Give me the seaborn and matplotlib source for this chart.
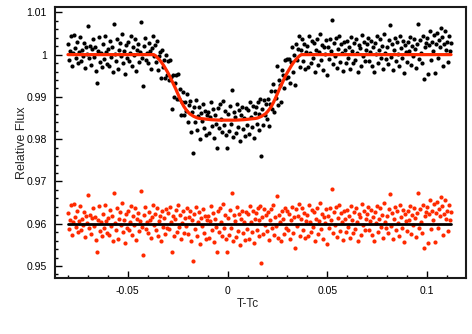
"""Transit light curve with model fit and residuals (seaborn)."""

import matplotlib

matplotlib.use("Agg")
import matplotlib.pyplot as plt
import numpy as np
import pandas as pd
import seaborn as sns
from matplotlib.ticker import FuncFormatter, MultipleLocator


# Time from mid-transit (T - Tc)
time = [
    -0.0800, -0.0795, -0.0790, -0.0785, -0.0780, -0.0775, -0.0770, -0.0765, -0.0760, -0.0755,
    -0.0750, -0.0745, -0.0740, -0.0735, -0.0730, -0.0725, -0.0720, -0.0715, -0.0710, -0.0705,
    -0.0700, -0.0695, -0.0690, -0.0685, -0.0680, -0.0675, -0.0670, -0.0665, -0.0660, -0.0655,
    -0.0650, -0.0645, -0.0640, -0.0635, -0.0630, -0.0625, -0.0620, -0.0615, -0.0610, -0.0605,
    -0.0600, -0.0595, -0.0590, -0.0585, -0.0580, -0.0575, -0.0570, -0.0565, -0.0560, -0.0555,
    -0.0550, -0.0545, -0.0540, -0.0535, -0.0530, -0.0525, -0.0520, -0.0515, -0.0510, -0.0505,
    -0.0500, -0.0495, -0.0490, -0.0485, -0.0480, -0.0475, -0.0470, -0.0465, -0.0460, -0.0455,
    -0.0450, -0.0445, -0.0440, -0.0435, -0.0430, -0.0425, -0.0420, -0.0415, -0.0410, -0.0405,
    -0.0400, -0.0395, -0.0390, -0.0385, -0.0380, -0.0375, -0.0370, -0.0365, -0.0360, -0.0355,
    -0.0350, -0.0345, -0.0340, -0.0335, -0.0330, -0.0325, -0.0320, -0.0315, -0.0310, -0.0305,
    -0.0300, -0.0295, -0.0290, -0.0285, -0.0280, -0.0275, -0.0270, -0.0265, -0.0260, -0.0255,
    -0.0250, -0.0245, -0.0240, -0.0235, -0.0230, -0.0225, -0.0220, -0.0215, -0.0210, -0.0205,
    -0.0200, -0.0195, -0.0190, -0.0185, -0.0180, -0.0175, -0.0170, -0.0165, -0.0160, -0.0155,
    -0.0150, -0.0145, -0.0140, -0.0135, -0.0130, -0.0125, -0.0120, -0.0115, -0.0110, -0.0105,
    -0.0100, -0.0095, -0.0090, -0.0085, -0.0080, -0.0075, -0.0070, -0.0065, -0.0060, -0.0055,
    -0.0050, -0.0045, -0.0040, -0.0035, -0.0030, -0.0025, -0.0020, -0.0015, -0.0010, -0.0005,
    0.0000, 0.0005, 0.0010, 0.0015, 0.0020, 0.0025, 0.0030, 0.0035, 0.0040, 0.0045,
    0.0050, 0.0055, 0.0060, 0.0065, 0.0070, 0.0075, 0.0080, 0.0085, 0.0090, 0.0095,
    0.0100, 0.0105, 0.0110, 0.0115, 0.0120, 0.0125, 0.0130, 0.0135, 0.0140, 0.0145,
    0.0150, 0.0155, 0.0160, 0.0165, 0.0170, 0.0175, 0.0180, 0.0185, 0.0190, 0.0195,
    0.0200, 0.0205, 0.0210, 0.0215, 0.0220, 0.0225, 0.0230, 0.0235, 0.0240, 0.0245,
    0.0250, 0.0255, 0.0260, 0.0265, 0.0270, 0.0275, 0.0280, 0.0285, 0.0290, 0.0295,
    0.0300, 0.0305, 0.0310, 0.0315, 0.0320, 0.0325, 0.0330, 0.0335, 0.0340, 0.0345,
    0.0350, 0.0355, 0.0360, 0.0365, 0.0370, 0.0375, 0.0380, 0.0385, 0.0390, 0.0395,
    0.0400, 0.0405, 0.0410, 0.0415, 0.0420, 0.0425, 0.0430, 0.0435, 0.0440, 0.0445,
    0.0450, 0.0455, 0.0460, 0.0465, 0.0470, 0.0475, 0.0480, 0.0485, 0.0490, 0.0495,
    0.0500, 0.0505, 0.0510, 0.0515, 0.0520, 0.0525, 0.0530, 0.0535, 0.0540, 0.0545,
    0.0550, 0.0555, 0.0560, 0.0565, 0.0570, 0.0575, 0.0580, 0.0585, 0.0590, 0.0595,
    0.0600, 0.0605, 0.0610, 0.0615, 0.0620, 0.0625, 0.0630, 0.0635, 0.0640, 0.0645,
    0.0650, 0.0655, 0.0660, 0.0665, 0.0670, 0.0675, 0.0680, 0.0685, 0.0690, 0.0695,
    0.0700, 0.0705, 0.0710, 0.0715, 0.0720, 0.0725, 0.0730, 0.0735, 0.0740, 0.0745,
    0.0750, 0.0755, 0.0760, 0.0765, 0.0770, 0.0775, 0.0780, 0.0785, 0.0790, 0.0795,
    0.0800, 0.0805, 0.0810, 0.0815, 0.0820, 0.0825, 0.0830, 0.0835, 0.0840, 0.0845,
    0.0850, 0.0855, 0.0860, 0.0865, 0.0870, 0.0875, 0.0880, 0.0885, 0.0890, 0.0895,
    0.0900, 0.0905, 0.0910, 0.0915, 0.0920, 0.0925, 0.0930, 0.0935, 0.0940, 0.0945,
    0.0950, 0.0955, 0.0960, 0.0965, 0.0970, 0.0975, 0.0980, 0.0985, 0.0990, 0.0995,
    0.1000, 0.1005, 0.1010, 0.1015, 0.1020, 0.1025, 0.1030, 0.1035, 0.1040, 0.1045,
    0.1050, 0.1055, 0.1060, 0.1065, 0.1070, 0.1075, 0.1080, 0.1085, 0.1090, 0.1095,
    0.1100, 0.1105, 0.1110, 0.1115, 0.1120,
]

# Observed relative flux (black points)
flux = [
    1.0025, 0.9988, 1.0008, 1.0044, 0.9973, 1.0003, 1.0046, 1.0015, 0.9992, 1.0030,
    0.9980, 1.0006, 1.0042, 0.9985, 1.0011, 0.9997, 1.0028, 0.9968, 1.0019, 1.0002,
    1.0067, 0.9991, 1.0021, 0.9976, 1.0013, 1.0036, 0.9995, 1.0017, 0.9962, 0.9933,
    1.0009, 1.0041, 0.9982, 1.0004, 0.9970, 1.0024, 0.9989, 1.0045, 1.0007, 0.9978,
    1.0014, 0.9973, 1.0033, 0.9994, 1.0019, 0.9959, 1.0072, 1.0002, 0.9984, 1.0038,
    0.9965, 1.0011, 1.0027, 0.9997, 1.0048, 0.9980, 1.0008, 0.9955, 1.0022, 0.9991,
    1.0031, 0.9986, 1.0005, 1.0043, 0.9974, 1.0018, 0.9998, 1.0036, 0.9961, 1.0012,
    1.0025, 0.9982, 1.0007, 1.0077, 0.9992, 0.9926, 1.0020, 1.0040, 0.9988, 1.0003,
    0.9979, 1.0028, 1.0009, 0.9967, 1.0016, 1.0044, 0.9996, 1.0022, 0.9982, 1.0032,
    0.9964, 0.9996, 1.0006, 0.9944, 1.0011, 0.9971, 0.9988, 0.9945, 1.0000, 0.9951,
    0.9984, 0.9941, 0.9988, 0.9948, 0.9872, 0.9952, 0.9899, 0.9934, 0.9952, 0.9895,
    0.9953, 0.9895, 0.9918, 0.9856, 0.9889, 0.9912, 0.9856, 0.9889, 0.9866, 0.9906,
    0.9841, 0.9880, 0.9891, 0.9818, 0.9865, 0.9767, 0.9876, 0.9841, 0.9892, 0.9821,
    0.9855, 0.9877, 0.9801, 0.9862, 0.9843, 0.9883, 0.9827, 0.9867, 0.9810, 0.9856,
    0.9865, 0.9814, 0.9852, 0.9888, 0.9831, 0.9871, 0.9802, 0.9857, 0.9837, 0.9778,
    0.9874, 0.9826, 0.9882, 0.9848, 0.9817, 0.9891, 0.9834, 0.9866, 0.9809, 0.9778,
    0.9859, 0.9819, 0.9878, 0.9836, 0.9917, 0.9805, 0.9865, 0.9852, 0.9814, 0.9884,
    0.9829, 0.9870, 0.9796, 0.9856, 0.9877, 0.9824, 0.9850, 0.9808, 0.9873, 0.9833,
    0.9869, 0.9812, 0.9888, 0.9853, 0.9828, 0.9878, 0.9803, 0.9861, 0.9875, 0.9836,
    0.9887, 0.9822, 0.9860, 0.9896, 0.9760, 0.9872, 0.9833, 0.9893, 0.9857, 0.9883,
    0.9847, 0.9895, 0.9832, 0.9884, 0.9913, 0.9872, 0.9931, 0.9865, 0.9913, 0.9897,
    0.9974, 0.9881, 0.9940, 0.9927, 0.9887, 0.9963, 0.9951, 0.9920, 0.9987, 0.9945,
    0.9989, 0.9946, 0.9990, 0.9933, 0.9982, 1.0018, 0.9959, 0.9999, 0.9929, 1.0024,
    0.9987, 1.0014, 1.0043, 0.9971, 1.0011, 1.0037, 0.9986, 1.0026, 0.9967, 1.0007,
    1.0021, 0.9970, 1.0045, 1.0004, 0.9981, 1.0033, 0.9992, 1.0027, 0.9959, 1.0012,
    1.0038, 0.9976, 1.0006, 1.0049, 0.9987, 1.0023, 0.9964, 1.0017, 1.0001, 1.0035,
    0.9951, 1.0018, 0.9990, 1.0036, 1.0009, 1.0083, 0.9978, 1.0028, 0.9997, 1.0040,
    0.9969, 1.0014, 1.0044, 0.9983, 1.0025, 1.0005, 0.9962, 1.0030, 1.0011, 0.9980,
    1.0032, 0.9993, 1.0019, 0.9967, 1.0042, 1.0008, 0.9979, 1.0027, 0.9988, 1.0037,
    1.0003, 0.9958, 1.0022, 1.0015, 0.9974, 1.0046, 0.9996, 1.0029, 0.9984, 1.0010,
    1.0024, 1.0039, 0.9985, 1.0006, 1.0033, 0.9973, 1.0017, 0.9959, 1.0028, 1.0001,
    1.0043, 0.9981, 1.0012, 1.0036, 0.9992, 1.0021, 0.9966, 1.0048, 1.0004, 0.9989,
    1.0018, 0.9977, 1.0035, 1.0070, 0.9994, 1.0026, 0.9963, 1.0011, 1.0040, 0.9986,
    1.0029, 1.0002, 0.9972, 1.0044, 1.0016, 0.9991, 1.0033, 0.9956, 1.0022, 1.0007,
    0.9983, 1.0030, 1.0009, 1.0041, 0.9975, 1.0020, 0.9996, 1.0037, 1.0013, 0.9968,
    1.0026, 1.0072, 0.9989, 1.0034, 1.0005, 0.9979, 1.0045, 0.9942, 1.0018, 1.0028,
    1.0039, 0.9954, 1.0022, 1.0055, 0.9987, 1.0031, 1.0008, 1.0047, 0.9956, 1.0026,
    1.0051, 0.9991, 1.0035, 1.0018, 1.0063, 1.0041, 0.9973, 1.0024, 1.0056, 1.0012,
    1.0030, 0.9982, 1.0044, 1.0009, 1.0027,
]

# Residuals (data - model), offset to 0.96 (red points)
resid = [
    0.9625, 0.9588, 0.9608, 0.9644, 0.9573, 0.9603, 0.9646, 0.9615, 0.9592, 0.9630,
    0.9580, 0.9606, 0.9642, 0.9585, 0.9611, 0.9597, 0.9628, 0.9568, 0.9619, 0.9602,
    0.9667, 0.9591, 0.9621, 0.9576, 0.9613, 0.9636, 0.9595, 0.9617, 0.9562, 0.9533,
    0.9609, 0.9641, 0.9582, 0.9604, 0.9570, 0.9624, 0.9589, 0.9645, 0.9607, 0.9578,
    0.9614, 0.9573, 0.9633, 0.9594, 0.9619, 0.9559, 0.9672, 0.9602, 0.9584, 0.9638,
    0.9565, 0.9611, 0.9627, 0.9597, 0.9648, 0.9580, 0.9608, 0.9555, 0.9622, 0.9591,
    0.9631, 0.9586, 0.9605, 0.9643, 0.9574, 0.9618, 0.9598, 0.9636, 0.9561, 0.9612,
    0.9625, 0.9582, 0.9607, 0.9677, 0.9592, 0.9526, 0.9620, 0.9640, 0.9588, 0.9603,
    0.9579, 0.9628, 0.9609, 0.9567, 0.9616, 0.9644, 0.9596, 0.9623, 0.9585, 0.9637,
    0.9572, 0.9606, 0.9619, 0.9560, 0.9630, 0.9593, 0.9614, 0.9575, 0.9634, 0.9589,
    0.9626, 0.9587, 0.9639, 0.9604, 0.9533, 0.9618, 0.9570, 0.9610, 0.9633, 0.9581,
    0.9645, 0.9592, 0.9621, 0.9564, 0.9602, 0.9629, 0.9578, 0.9614, 0.9595, 0.9638,
    0.9576, 0.9617, 0.9631, 0.9559, 0.9608, 0.9511, 0.9622, 0.9588, 0.9640, 0.9570,
    0.9605, 0.9627, 0.9552, 0.9613, 0.9594, 0.9635, 0.9579, 0.9619, 0.9563, 0.9609,
    0.9618, 0.9567, 0.9606, 0.9642, 0.9585, 0.9625, 0.9556, 0.9611, 0.9592, 0.9533,
    0.9629, 0.9581, 0.9637, 0.9603, 0.9572, 0.9646, 0.9589, 0.9621, 0.9564, 0.9533,
    0.9614, 0.9574, 0.9633, 0.9591, 0.9672, 0.9560, 0.9620, 0.9607, 0.9569, 0.9639,
    0.9583, 0.9624, 0.9550, 0.9610, 0.9631, 0.9578, 0.9604, 0.9562, 0.9627, 0.9587,
    0.9622, 0.9565, 0.9641, 0.9605, 0.9580, 0.9630, 0.9554, 0.9612, 0.9626, 0.9586,
    0.9637, 0.9571, 0.9608, 0.9643, 0.9506, 0.9616, 0.9576, 0.9634, 0.9597, 0.9620,
    0.9582, 0.9627, 0.9561, 0.9609, 0.9635, 0.9589, 0.9644, 0.9573, 0.9616, 0.9594,
    0.9666, 0.9567, 0.9621, 0.9603, 0.9558, 0.9629, 0.9612, 0.9576, 0.9638, 0.9591,
    0.9631, 0.9584, 0.9624, 0.9563, 0.9608, 0.9640, 0.9578, 0.9615, 0.9542, 0.9634,
    0.9595, 0.9619, 0.9646, 0.9572, 0.9611, 0.9637, 0.9586, 0.9626, 0.9567, 0.9607,
    0.9621, 0.9570, 0.9645, 0.9604, 0.9581, 0.9633, 0.9592, 0.9627, 0.9559, 0.9612,
    0.9638, 0.9576, 0.9606, 0.9649, 0.9587, 0.9623, 0.9564, 0.9617, 0.9601, 0.9635,
    0.9551, 0.9618, 0.9590, 0.9636, 0.9609, 0.9683, 0.9578, 0.9628, 0.9597, 0.9640,
    0.9569, 0.9614, 0.9644, 0.9583, 0.9625, 0.9605, 0.9562, 0.9630, 0.9611, 0.9580,
    0.9632, 0.9593, 0.9619, 0.9567, 0.9642, 0.9608, 0.9579, 0.9627, 0.9588, 0.9637,
    0.9603, 0.9558, 0.9622, 0.9615, 0.9574, 0.9646, 0.9596, 0.9629, 0.9584, 0.9610,
    0.9624, 0.9639, 0.9585, 0.9606, 0.9633, 0.9573, 0.9617, 0.9559, 0.9628, 0.9601,
    0.9643, 0.9581, 0.9612, 0.9636, 0.9592, 0.9621, 0.9566, 0.9648, 0.9604, 0.9589,
    0.9618, 0.9577, 0.9635, 0.9670, 0.9594, 0.9626, 0.9563, 0.9611, 0.9640, 0.9586,
    0.9629, 0.9602, 0.9572, 0.9644, 0.9616, 0.9591, 0.9633, 0.9556, 0.9622, 0.9607,
    0.9583, 0.9630, 0.9609, 0.9641, 0.9575, 0.9620, 0.9596, 0.9637, 0.9613, 0.9568,
    0.9626, 0.9672, 0.9589, 0.9634, 0.9605, 0.9579, 0.9645, 0.9542, 0.9618, 0.9628,
    0.9639, 0.9554, 0.9622, 0.9655, 0.9587, 0.9631, 0.9608, 0.9647, 0.9556, 0.9626,
    0.9651, 0.9591, 0.9635, 0.9618, 0.9663, 0.9641, 0.9573, 0.9624, 0.9656, 0.9612,
    0.9630, 0.9582, 0.9644, 0.9609, 0.9627,
]

# Transit model curve
model_time = [
    -0.080, -0.037, -0.036, -0.035, -0.034, -0.033, -0.032, -0.031, -0.030, -0.029,
    -0.028, -0.027, -0.026, -0.025, -0.024, -0.023, -0.022, -0.021, -0.020, -0.019,
    -0.018, -0.017, -0.016, -0.015, -0.014, -0.012, -0.008, -0.004, 0.000, 0.004,
    0.008, 0.012, 0.014, 0.015, 0.016, 0.017, 0.018, 0.019, 0.020, 0.021,
    0.022, 0.023, 0.024, 0.025, 0.026, 0.027, 0.028, 0.029, 0.030, 0.031,
    0.032, 0.033, 0.034, 0.035, 0.036, 0.037, 0.112,
]
model_flux = [
    1.0000, 1.0000, 0.9997, 0.9992, 0.9987, 0.9981, 0.9974, 0.9966, 0.9958, 0.9949,
    0.9939, 0.9929, 0.9919, 0.9908, 0.9897, 0.9887, 0.9878, 0.9871, 0.9865, 0.9860,
    0.9857, 0.9854, 0.9852, 0.9850, 0.9849, 0.9848, 0.9846, 0.9845, 0.9845, 0.9845,
    0.9846, 0.9848, 0.9849, 0.9850, 0.9852, 0.9854, 0.9857, 0.9860, 0.9865, 0.9871,
    0.9878, 0.9887, 0.9897, 0.9908, 0.9919, 0.9929, 0.9939, 0.9949, 0.9958, 0.9966,
    0.9974, 0.9981, 0.9987, 0.9992, 0.9997, 1.0000, 1.0000,
]

# Zero level of the residuals
resid_line_time = [-0.080, 0.112]
resid_line_flux = [0.96, 0.96]

RED = "#ff2a00"


def fmt_g(value, _pos):
    return f"{value:g}"


def main():
    sns.set_theme(style="ticks")
    plt.rcParams["font.family"] = ["Liberation Sans", "DejaVu Sans"]

    points = pd.DataFrame({"time": time, "flux": flux, "resid": resid})
    model = pd.DataFrame({"time": model_time, "flux": model_flux})
    zero = pd.DataFrame({"time": resid_line_time, "flux": resid_line_flux})

    fig = plt.figure(figsize=(4.72, 3.34), dpi=100)
    ax = fig.add_axes([0.1165, 0.1677, 0.8708, 0.8113])

    sns.scatterplot(data=points, x="time", y="flux", color="black",
                    s=9, linewidth=0, ax=ax, zorder=2)
    sns.scatterplot(data=points, x="time", y="resid", color=RED,
                    s=9, linewidth=0, ax=ax, zorder=2)
    sns.lineplot(data=model, x="time", y="flux", color=RED, linewidth=2.3,
                 sort=False, estimator=None, ax=ax, zorder=3)
    sns.lineplot(data=zero, x="time", y="flux", color="black", linewidth=2.0,
                 sort=False, estimator=None, ax=ax, zorder=3)

    ax.set_xlim(-0.0865, 0.1195)
    ax.set_ylim(0.94716, 1.01126)

    ax.xaxis.set_major_locator(MultipleLocator(0.05))
    ax.xaxis.set_minor_locator(MultipleLocator(0.01))
    ax.yaxis.set_major_locator(MultipleLocator(0.01))
    ax.yaxis.set_minor_locator(MultipleLocator(0.002))
    ax.xaxis.set_major_formatter(FuncFormatter(fmt_g))
    ax.yaxis.set_major_formatter(FuncFormatter(fmt_g))

    ax.tick_params(which="both", direction="in", top=False, right=False,
                   labelsize=7.5, colors="black", width=1.0, pad=6)
    ax.tick_params(which="major", length=5)
    ax.tick_params(which="minor", length=2.5)
    for spine in ax.spines.values():
        spine.set_visible(True)
        spine.set_linewidth(1.5)
        spine.set_color("#1a1a1a")

    ax.set_xlabel("T-Tc", fontsize=8.5)
    ax.set_ylabel("Relative Flux", fontsize=9)
    ax.xaxis.set_label_coords(0.47, -0.075)
    ax.yaxis.set_label_coords(-0.066, 0.5)

    fig.savefig("out.png", dpi=100)
    plt.close(fig)


if __name__ == "__main__":
    main()
